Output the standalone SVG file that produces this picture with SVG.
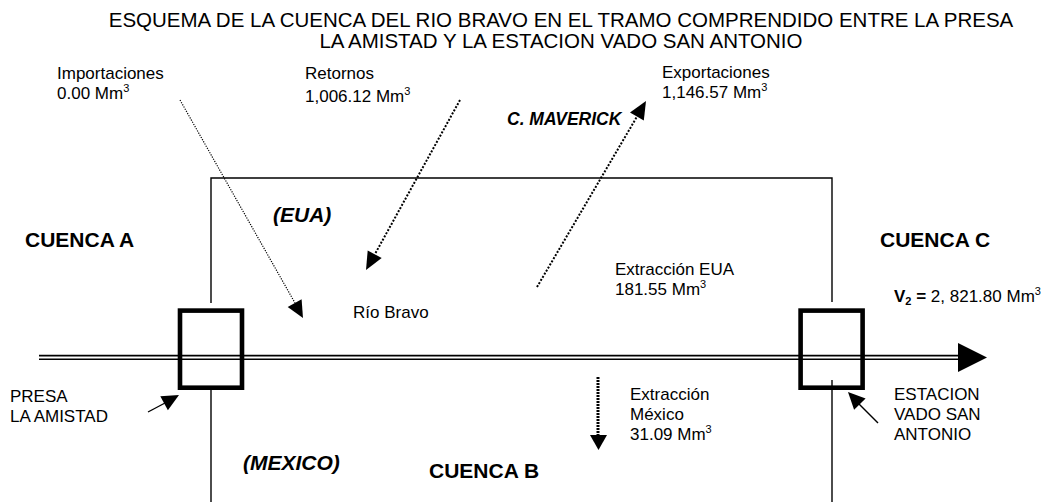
<svg xmlns="http://www.w3.org/2000/svg" width="1045" height="502" viewBox="0 0 1045 502">
<style>
text{font-family:"Liberation Sans",Arial,sans-serif;fill:#000}
.t{font-size:20.5px}
.n{font-size:17px}
.b{font-size:21px;font-weight:bold}
.bi{font-size:21px;font-weight:bold;font-style:italic}
.mv{font-size:17.5px;font-weight:bold;font-style:italic}
.sup{font-size:11px}
.ln{stroke:#000;stroke-width:1.4;fill:none}
.box{stroke:#000;stroke-width:4.6;fill:none}
.d1{stroke:#000;stroke-width:1.2;stroke-dasharray:1.2 1.3;fill:none}
.d2{stroke:#000;stroke-width:2;stroke-dasharray:2 1.6;fill:none}
.d3{stroke:#000;stroke-width:3;stroke-dasharray:2 1;fill:none}
.ah{fill:#000;stroke:none}
</style>
<rect width="1045" height="502" fill="#fff"/>
<g id="title">
<text class="t" x="561" y="26.7" text-anchor="middle">ESQUEMA DE LA CUENCA DEL RIO BRAVO EN EL TRAMO COMPRENDIDO ENTRE LA PRESA</text>
<text class="t" x="561" y="48.3" text-anchor="middle">LA AMISTAD Y LA ESTACION VADO SAN ANTONIO</text>
</g>
<g id="basin-frame">
<path class="ln" d="M211,303 V178 H832 V302"/>
<path class="ln" d="M211,390 V502"/>
<path class="ln" d="M832,380 V502"/>
</g>
<g id="rio-bravo">
<line x1="39" y1="357.4" x2="960" y2="357.4" stroke="#000" stroke-width="5.3"/>
<line x1="39" y1="357.4" x2="960" y2="357.4" stroke="#fff" stroke-width="2"/>
<polygon class="ah" points="958,343 987,357.5 958,372"/>
<text class="n" x="353" y="318">Río Bravo</text>
</g>
<g id="presa-la-amistad">
<rect class="box" x="180" y="310.6" width="62" height="77.1"/>
<text class="n" x="10" y="402">PRESA</text>
<text class="n" x="10" y="422">LA AMISTAD</text>
</g>
<g id="estacion-vado-san-antonio">
<rect class="box" x="800.6" y="310.6" width="62" height="77.1"/>
<text class="n" x="894" y="400">ESTACION</text>
<text class="n" x="894" y="420">VADO SAN</text>
<text class="n" x="894" y="440">ANTONIO</text>
</g>
<g id="cuencas">
<text class="b" x="25" y="247">CUENCA A</text>
<text class="b" x="429" y="478">CUENCA B</text>
<text class="b" x="880" y="247">CUENCA C</text>
<text class="bi" x="273" y="221.7">(EUA)</text>
<text class="bi" x="243" y="470">(MEXICO)</text>
<text class="mv" x="507" y="125">C. MAVERICK</text>
</g>
<g id="importaciones">
<text class="n" x="57" y="79">Importaciones</text>
<text class="n" x="57" y="99">0.00 Mm<tspan class="sup" dy="-7">3</tspan></text>
</g>
<g id="retornos">
<text class="n" x="305" y="79">Retornos</text>
<text class="n" x="305" y="102">1,006.12 Mm<tspan class="sup" dy="-7">3</tspan></text>
</g>
<g id="exportaciones">
<text class="n" x="662" y="78">Exportaciones</text>
<text class="n" x="662" y="98">1,146.57 Mm<tspan class="sup" dy="-7">3</tspan></text>
</g>
<g id="extraccion-eua">
<text class="n" x="615" y="275">Extracción EUA</text>
<text class="n" x="615" y="295">181.55 Mm<tspan class="sup" dy="-7">3</tspan></text>
</g>
<g id="extraccion-mexico">
<text class="n" x="630" y="400">Extracción</text>
<text class="n" x="630" y="420">México</text>
<text class="n" x="630" y="440">31.09 Mm<tspan class="sup" dy="-7">3</tspan></text>
</g>
<g id="v2">
<text class="n" x="894" y="302"><tspan font-weight="bold">V</tspan><tspan font-weight="bold" font-size="11px" dy="3">2</tspan><tspan font-weight="bold" dy="-3"> =</tspan> 2, 821.80 Mm<tspan class="sup" dy="-7">3</tspan></text>
</g>
<g id="connectors">
<line class="d1" x1="180" y1="100" x2="295" y2="303"/>
<polygon class="ah" points="303,318 287.7,307.1 301.6,299.3"/>
<line class="d2" x1="460" y1="100" x2="375" y2="254"/>
<polygon class="ah" points="366,270 381.7,258.1 367.7,250.4"/>
<line class="d2" x1="537" y1="287" x2="637" y2="116.6"/>
<polygon class="ah" points="646,101 643.8,120.6 630,112.6"/>
<line class="d3" x1="598" y1="377" x2="598" y2="436"/>
<polygon class="ah" points="590,435 607,435 598.5,450"/>
<line class="ln" x1="148" y1="412" x2="165" y2="403"/>
<polygon class="ah" points="179,395 167.9,410.2 160.3,396.2"/>
<line class="ln" x1="878" y1="423" x2="859" y2="404"/>
<polygon class="ah" points="848,392 865.6,398.6 854.1,409.8"/>
</g>
</svg>
